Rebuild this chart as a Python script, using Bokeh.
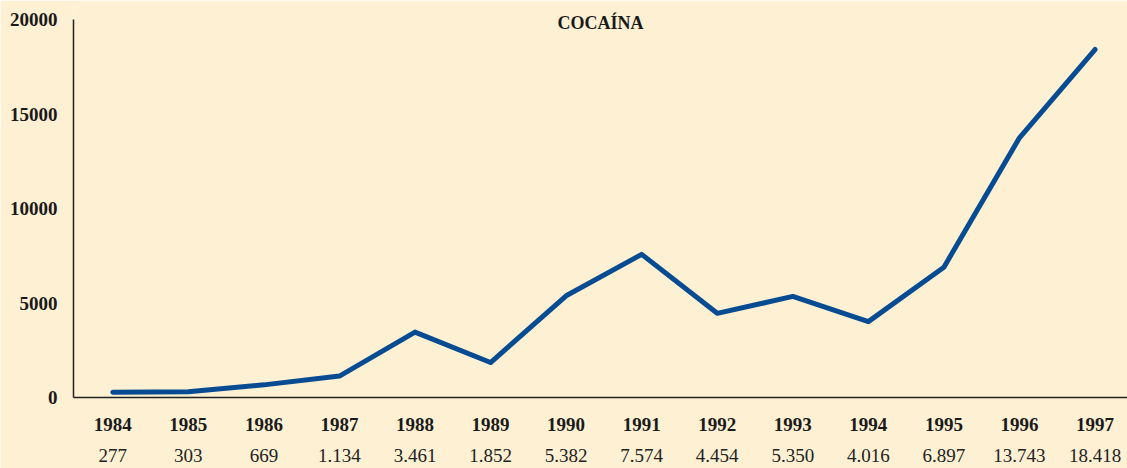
from bokeh.plotting import figure
from bokeh.models import LinearAxis, FixedTicker, Range1d, Label
from bokeh.embed import file_html
from bokeh.resources import INLINE

years = [1984, 1985, 1986, 1987, 1988, 1989, 1990, 1991, 1992, 1993, 1994, 1995, 1996, 1997]
values = [277, 303, 669, 1134, 3461, 1852, 5382, 7574, 4454, 5350, 4016, 6897, 13743, 18418]
value_labels = ["277", "303", "669", "1.134", "3.461", "1.852", "5.382", "7.574",
                "4.454", "5.350", "4.016", "6.897", "13.743", "18.418"]
y_ticks = [0, 5000, 10000, 15000, 20000]
title_text = "COCAÍNA"

BG = "#fdf0d3"
FONT = "Liberation Serif"
TXT = "#1a1a1a"

X0, X1 = 1983.48, 1997.43
p = figure(width=1127, height=468, output_backend="svg", toolbar_location=None,
           x_range=Range1d(X0, X1), y_range=Range1d(0, 20800),
           x_axis_location=None, y_axis_location=None,
           min_border_left=73, min_border_right=0, min_border_top=4, min_border_bottom=71)
p.background_fill_color = BG
p.border_fill_color = BG
p.outline_line_color = None
p.xgrid.visible = False
p.ygrid.visible = False

p.line(years, values, line_color="#074b92", line_width=5, line_cap="round", line_join="round")

def style_axis(ax, bold=True, line=True):
    ax.major_tick_in = 0
    ax.major_tick_out = 0
    ax.minor_tick_in = 0
    ax.minor_tick_out = 0
    ax.major_label_text_font = FONT
    ax.major_label_text_font_size = "19px"
    ax.major_label_text_font_style = "bold" if bold else "normal"
    ax.major_label_text_color = TXT
    if line:
        ax.axis_line_color = "#222222"
        ax.axis_line_width = 1.5
    else:
        ax.axis_line_color = None

yax = LinearAxis(ticker=FixedTicker(ticks=y_ticks), bounds=(0, 20000),
                 major_label_overrides={t: str(t) for t in y_ticks})
style_axis(yax)
yax.major_label_standoff = 16
p.add_layout(yax, "left")

xax = LinearAxis(ticker=FixedTicker(ticks=years),
                 major_label_overrides={y: str(y) for y in years})
style_axis(xax)
xax.major_label_standoff = 20
p.add_layout(xax, "below")

vax = LinearAxis(ticker=FixedTicker(ticks=years),
                 major_label_overrides={y: s for y, s in zip(years, value_labels)})
style_axis(vax, bold=False, line=False)
vax.major_label_text_color = "#222222"
vax.major_label_standoff = 15
p.add_layout(vax, "below")

title = Label(x=(X0 + X1) / 2, y=19841, text=title_text,
              text_font=FONT, text_font_size="18px", text_font_style="bold",
              text_color=TXT, text_align="center", text_baseline="middle")
p.add_layout(title)

open("out.html", "w").write(file_html(p, INLINE))
